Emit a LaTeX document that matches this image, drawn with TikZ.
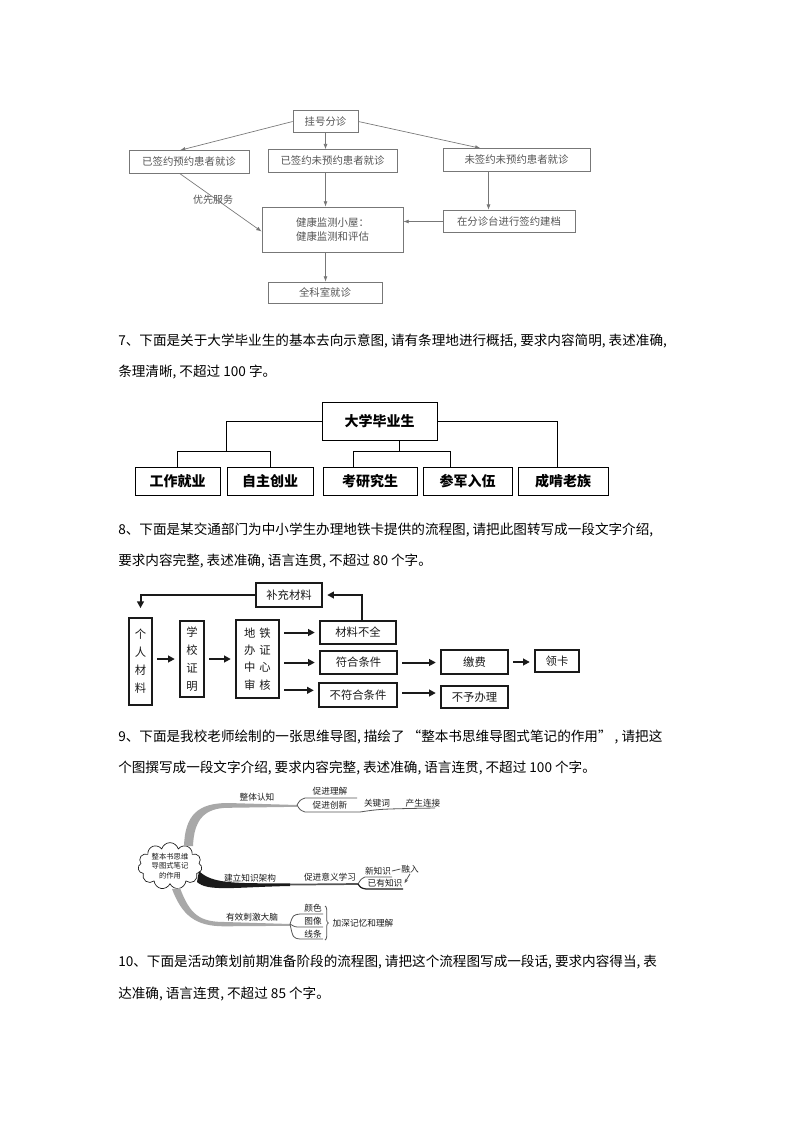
\documentclass[tikz,border=0pt]{standalone}
\usepackage{fontspec}
\setmainfont{Noto Sans CJK SC}
\usepackage{xcolor}
\usepackage{tikz}
\usetikzlibrary{arrows.meta, positioning, calc, shapes.symbols, decorations.pathreplacing}
\definecolor{scangray}{HTML}{777777}
\definecolor{inkgray}{HTML}{555555}
\definecolor{branchgray}{HTML}{A8A8A8}
\definecolor{inkblack}{HTML}{1A1A1A}

\tikzset{
  qline/.style={anchor=west, inner sep=0pt, text=black, font=\fontsize{10.2}{10.2}\selectfont},
  scanbox/.style={draw=scangray, line width=0.6pt, text=inkgray, font=\fontsize{7.8}{11}\selectfont, inner sep=1pt, minimum height=17pt},
  scanarrow/.style={draw=scangray, line width=0.5pt, -{Latex[length=4pt,width=3pt]}},
  treebox/.style={draw=black, line width=0.75pt, font=\fontsize{10.5}{10.5}\selectfont\bfseries, minimum height=21pt, inner sep=1pt},
  treeline/.style={draw=black, line width=0.6pt},
  flowbox/.style={draw=inkblack, line width=0.8pt, text=inkblack, font=\fontsize{8.5}{13.5}\selectfont, inner sep=1pt, align=center},
  flowarrow/.style={draw=inkblack, line width=1.5pt, -{Triangle[length=5pt,width=5pt]}, shorten >=3.5pt, shorten <=3.5pt},
  mapword/.style={inner sep=0.5pt, text=inkblack, font=\fontsize{6.5}{6.5}\selectfont},
  twig/.style={draw=inkgray, line width=0.6pt},
}

\begin{document}
\begin{tikzpicture}[x=0.75pt, y=-0.75pt]
  \fill[white] (0,0) rectangle (794,1123);
  \useasboundingbox (0,0) rectangle (794,1123);

  % Patient visit flow (scanned chart, light gray)
  \begin{scope}
    \node[scanbox, minimum width=48.75pt] (gh) at (325.5,121.5) {挂号分诊};
    \node[scanbox, minimum width=90pt] (yy) at (189,162) {已签约预约患者就诊};
    \node[scanbox, minimum width=96.75pt] (wy) at (332.5,161) {已签约未预约患者就诊};
    \node[scanbox, minimum width=110.25pt] (ww) at (516.5,160) {未签约未预约患者就诊};
    \node[scanbox, minimum width=105.75pt, minimum height=33.75pt, align=center] (jk) at (332.5,229.5) {健康监测小屋：\\健康监测和评估};
    \node[scanbox, minimum width=99pt] (fz) at (509,221.5) {在分诊台进行签约建档};
    \node[scanbox, minimum width=85.5pt, minimum height=15.75pt] (qk) at (325,292.5) {全科室就诊};
    \node[text=inkgray, font=\fontsize{7.5}{7.5}\selectfont] (yx) at (213,200) {优先服务};
    % Arrows
    \coordinate (wwb) at ([xshift=-21pt]ww.south);
    \draw[scanarrow] (gh.west) -- ([xshift=-6.75pt]yy.north);
    \draw[scanarrow] (gh.south) -- (gh.south |- wy.north);
    \draw[scanarrow] (gh.east) -- ([xshift=-27pt]ww.north);
    \draw[scanarrow] ([xshift=-6.75pt]yy.south) -- ([yshift=-1.5pt]jk.west);
    \draw[scanarrow] (gh.south |- wy.south) -- (gh.south |- jk.north);
    \draw[scanarrow] (wwb) -- (wwb |- fz.north);
    \draw[scanarrow] (fz.west) -- (fz.west -| jk.east);
    \draw[scanarrow] (gh.south |- jk.south) -- (gh.south |- qk.north);
  \end{scope}

  \node[qline] (q7a) at (118,341) {7、下面是关于大学毕业生的基本去向示意图, 请有条理地进行概括, 要求内容简明, 表述准确,};
  \node[qline] (q7b) at (118,372) {条理清晰, 不超过 100 字。};

  % Graduates and where they go
  \begin{scope}
    \node[treebox, minimum width=86.25pt, minimum height=28.5pt] (dx) at (379.5,421) {大学毕业生};
    \node[treebox, minimum width=63.75pt] (c1) at (177.5,481) {工作就业};
    \node[treebox, minimum width=64.5pt] (c2) at (270,481) {自主创业};
    \node[treebox, minimum width=70.5pt] (c3) at (370,481) {考研究生};
    \node[treebox, minimum width=66.75pt] (c4) at (467.5,481) {参军入伍};
    \node[treebox, minimum width=67.5pt] (c5) at (563,481) {成啃老族};
    \coordinate (j1) at (226.7,451.7);
    \coordinate (j2) at (399,451.7);
    \draw[treeline] (dx.west) -| (j1);
    \draw[treeline] (c1.north) |- (j1) -| (c2.north);
    \draw[treeline] (dx.south -| j2) -- (j2);
    \draw[treeline] ([xshift=-12.5pt]c3.north) |- (j2) -| ([xshift=-12.5pt]c4.north);
    \draw[treeline] (dx.east) -| ([xshift=-4.5pt]c5.north);
  \end{scope}

  \node[qline] (q8a) at (118,530) {8、下面是某交通部门为中小学生办理地铁卡提供的流程图, 请把此图转写成一段文字介绍,};
  \node[qline] (q8b) at (118,561) {要求内容完整, 表述准确, 语言连贯, 不超过 80 个字。};

  % Subway card procedure
  \begin{scope}
    \node[flowbox, minimum width=49.5pt, minimum height=18pt] (bc) at (289,595) {补充材料};
    \node[flowbox, minimum width=17.25pt, minimum height=65.25pt] (gr) at (140.5,661.5) {个\\人\\材\\料};
    \node[flowbox, minimum width=18pt, minimum height=57pt] (xx) at (192,659) {学\\校\\证\\明};
    \node[flowbox, minimum width=32.25pt, minimum height=58.5pt, font=\fontsize{8.5}{13}\selectfont] (dt) at (257.5,659) {地\hspace{3pt}铁\\办\hspace{3pt}证\\中\hspace{3pt}心\\审\hspace{3pt}核};
    \node[flowbox, minimum width=57pt, minimum height=17.25pt] (cl) at (358,632.5) {材料不全};
    \node[flowbox, minimum width=57.75pt, minimum height=17.25pt] (fh) at (358.5,662.5) {符合条件};
    \node[flowbox, minimum width=58.5pt, minimum height=18pt] (bf) at (358,695) {不符合条件};
    \node[flowbox, minimum width=50.25pt, minimum height=18pt] (jf) at (474.5,662) {缴费};
    \node[flowbox, minimum width=33pt, minimum height=16.5pt] (lk) at (557,661) {领卡};
    \node[flowbox, minimum width=50.25pt, minimum height=16.5pt] (bb) at (474.5,697) {不予办理};
    % Arrows
    \draw[flowarrow] (gr.east |- xx.west) -- (xx.west);
    \draw[flowarrow] (xx.east) -- (dt.west);
    \draw[flowarrow] (dt.east |- cl.west) -- (cl.west);
    \draw[flowarrow] (dt.east |- fh.west) -- (fh.west);
    \draw[flowarrow] ([yshift=3.5pt]dt.east |- bf.west) -- ([yshift=3.5pt]bf.west);
    \draw[flowarrow] (fh.east) -- (fh.east -| jf.west);
    \draw[flowarrow] (jf.east) -- (jf.east -| lk.west);
    \draw[flowarrow] ([yshift=1.5pt]bf.east) -- ([yshift=1.5pt]bf.east -| bb.west);
    \draw[flowarrow, shorten <=0pt, shorten >=7pt] (bc.west) -| (gr.north);
    \draw[flowarrow, shorten <=0pt] ([xshift=3pt]cl.north) |- (bc.east);
  \end{scope}

  \node[qline] (q9a) at (118,737) {9、下面是我校老师绘制的一张思维导图, 描绘了 “整本书思维导图式笔记的作用” , 请把这};
  \node[qline] (q9b) at (118,768) {个图撰写成一段文字介绍, 要求内容完整, 表述准确, 语言连贯, 不超过 100 个字。};

  % Mind map of whole-book notes
  \begin{scope}
    \node[cloud, draw=inkblack, line width=0.5pt, cloud puffs=11, aspect=1.4, minimum width=48pt, minimum height=35pt, inner sep=0pt, align=center, text=inkblack, font=\fontsize{5.5}{7}\selectfont] (hub) at (170,866) {整本书思维\\导图式笔记\\的作用};
    \coordinate (k1) at (297,805);
    \coordinate (k2) at (358,884);
    \coordinate (k3) at (290,924);
    % Main branches (tapered)
    \fill[branchgray] (184,846) .. controls (185,815) and (198,803) .. (228,803) -- (k1) -- (297,806.8) -- (228,807.8) .. controls (206,808) and (194,818) .. (193,846) -- cycle;
    \fill[inkblack] (199,871) .. controls (212,884) and (235,883.3) .. (290,883.3) -- (290,886) .. controls (235,887) and (208,892) .. (197,882) -- cycle;
    \draw[inkgray, line width=1.3pt] (290,884.6) -- (k2);
    \fill[branchgray] (180,888) .. controls (190,915) and (200,922) .. (225,922) -- (k3) -- (290,925.8) -- (225,926.3) .. controls (195,926.5) and (182,915) .. (172,889) -- cycle;
    % Labels
    \node[mapword] (zt) at (257,797) {整体认知};
    \node[mapword] (lj) at (330,791) {促进理解};
    \node[mapword] (cx) at (330,805) {促进创新};
    \node[mapword] (gj) at (377,803) {关键词};
    \node[mapword] (cs) at (423,803) {产生连接};
    \node[mapword] (jl) at (250,878) {建立知识架构};
    \node[mapword] (yx2) at (330,877) {促进意义学习};
    \node[mapword] (xz) at (378,871) {新知识};
    \node[mapword] (rr) at (410,869) {融入};
    \node[mapword] (yz) at (385,883) {已有知识};
    \node[mapword] (yc) at (252,917) {有效刺激大脑};
    \node[mapword] (ys) at (313,908) {颜色};
    \node[mapword] (tx) at (313,921) {图像};
    \node[mapword] (xt) at (313,934) {线条};
    \node[mapword] (jh) at (363,923) {加深记忆和理解};
    % Twigs
    \draw[twig] (k1) .. controls (300,800) .. (305,798) -- (357,798);
    \draw[twig] (k1) .. controls (300,810) .. (305,812) -- (360,812) .. controls (380,809) .. (435,808);
    \draw[twig] (k2) .. controls (361,879) .. (365,877) -- (392,877);
    \draw[inkblack, line width=0.9pt] (k2) .. controls (361,888) .. (366,889) -- (403,889);
    \draw[twig] (xz.east) -- (rr.west);
    \draw[twig, -{Stealth[length=3pt,width=2.5pt]}] (rr.south) -- ([xshift=1pt]yz.east);
    \draw[twig] (k3) .. controls (293,915) .. (300,914) -- (323,914);
    \draw[twig] (k3) .. controls (295,927) .. (300,927) -- (323,927);
    \draw[twig] (k3) .. controls (293,938) .. (300,939) -- (323,939);
    \draw[twig, decorate, decoration={brace, amplitude=2.5pt}] (325,906) -- (325,940);
  \end{scope}

  \node[qline] (q10a) at (118,962) {10、下面是活动策划前期准备阶段的流程图, 请把这个流程图写成一段话, 要求内容得当, 表};
  \node[qline] (q10b) at (118,994) {达准确, 语言连贯, 不超过 85 个字。};
\end{tikzpicture}
\end{document}
